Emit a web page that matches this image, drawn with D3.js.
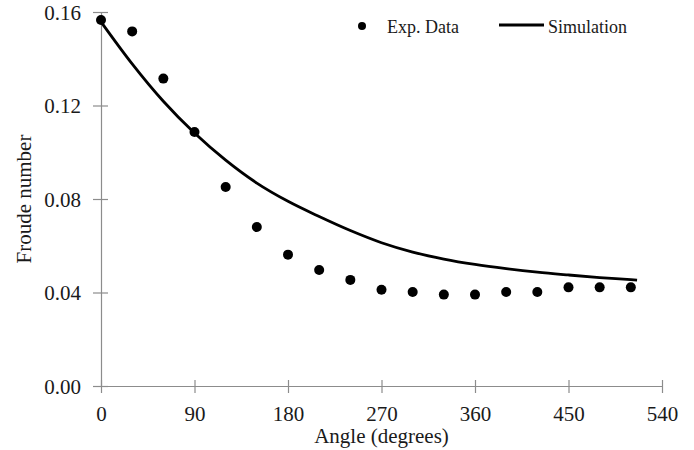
<!DOCTYPE html>
<html>
<head>
<meta charset="utf-8">
<script src="https://cdn.jsdelivr.net/npm/d3@7"></script>
<style>
  html, body { margin: 0; padding: 0; background: #fff; }
  svg { display: block; }
  text { font-family: "Liberation Serif", "Times New Roman", serif; fill: #1a1a1a; }
</style>
</head>
<body>
<svg id="chart" width="694" height="450"></svg>
<script>
// Experimental measurements (angle in degrees, Froude number)
const expAngles = [0, 30, 60, 90, 120, 150, 180, 210, 240, 270, 300, 330, 360, 390, 420, 450, 480, 510];
const expFroude = [0.1566, 0.1517, 0.1315, 0.1087, 0.0851, 0.0680, 0.0562, 0.0496, 0.0454, 0.0412,
                   0.0402, 0.0391, 0.0391, 0.0402, 0.0402, 0.0422, 0.0422, 0.0422];

// Simulated curve
const simAngles = [0, 30, 60, 90, 120, 150, 180, 210, 240, 270, 300, 330, 360, 390, 420, 450, 480, 510, 516];
const simFroude = [0.1558, 0.1378, 0.1218, 0.1082, 0.0966, 0.0868, 0.0790, 0.0725, 0.0665, 0.0613,
                   0.0573, 0.0543, 0.0520, 0.0502, 0.0487, 0.0475, 0.0464, 0.0455, 0.0453];

const xTicks = [0, 90, 180, 270, 360, 450, 540];
const yTicks = [0, 0.04, 0.08, 0.12, 0.16];

const seriesNames = ["Exp. Data", "Simulation"];
const xTitle = "Angle (degrees)";
const yTitle = "Froude number";

const svg = d3.select("#chart");
const axisColor = "#8c8c8c";

const x = d3.scaleLinear().domain([0, 540]).range([101, 662]);
const y = d3.scaleLinear().domain([0, 0.16]).range([386, 12]);

// X axis: line with ticks crossing it
const xAxis = svg.append("g").attr("transform", `translate(0,${y(0)})`)
  .call(d3.axisBottom(x).tickValues(xTicks).tickSize(0).tickFormat(d3.format("d")));
xAxis.select(".domain").attr("stroke", axisColor).attr("stroke-width", 1.2);
xAxis.selectAll(".tick line").remove();
xAxis.selectAll(".tick").append("line")
  .attr("y1", -6).attr("y2", 7).attr("stroke", axisColor).attr("stroke-width", 1.2);
xAxis.selectAll(".tick text")
  .attr("y", 35).attr("dy", 0)
  .style("font-family", '"Liberation Serif", serif').style("font-size", "21px").attr("fill", "#1a1a1a");

// Y axis
const yAxis = svg.append("g").attr("transform", `translate(${x(0)},0)`)
  .call(d3.axisLeft(y).tickValues(yTicks).tickSize(0).tickFormat(d3.format(".2f")));
yAxis.select(".domain").attr("stroke", axisColor).attr("stroke-width", 1.2);
yAxis.selectAll(".tick line").remove();
yAxis.selectAll(".tick").append("line")
  .attr("x1", -8).attr("x2", 7).attr("stroke", axisColor).attr("stroke-width", 1.2);
yAxis.selectAll(".tick text")
  .attr("x", -20).attr("dy", "0.35em")
  .style("font-family", '"Liberation Serif", serif').style("font-size", "21px").attr("fill", "#1a1a1a");

// Axis titles
svg.append("text")
  .attr("x", (x(0) + x(540)) / 2).attr("y", 443)
  .attr("text-anchor", "middle").style("font-size", "21px").text(xTitle);
svg.append("text")
  .attr("transform", `translate(31,${(y(0) + y(0.16)) / 2}) rotate(-90)`)
  .attr("text-anchor", "middle").style("font-size", "21px").text(yTitle);

// Simulation line
const simData = simAngles.map((a, i) => ({ a, v: simFroude[i] }));
svg.append("path")
  .datum(simData)
  .attr("fill", "none").attr("stroke", "#000").attr("stroke-width", 2.8)
  .attr("d", d3.line().x(d => x(d.a)).y(d => y(d.v)).curve(d3.curveMonotoneX));

// Experimental points
const expData = expAngles.map((a, i) => ({ a, v: expFroude[i] }));
svg.append("g").selectAll("circle")
  .data(expData).join("circle")
  .attr("cx", d => x(d.a)).attr("cy", d => y(d.v)).attr("r", 5).attr("fill", "#000");

// Legend
const legend = svg.append("g");
legend.append("circle").attr("cx", 362).attr("cy", 26).attr("r", 4).attr("fill", "#000");
legend.append("text").attr("x", 387).attr("y", 33).style("font-size", "18px").text(seriesNames[0]);
legend.append("line").attr("x1", 499).attr("x2", 544).attr("y1", 25).attr("y2", 25)
  .attr("stroke", "#000").attr("stroke-width", 2.8);
legend.append("text").attr("x", 548).attr("y", 33).style("font-size", "18px").text(seriesNames[1]);
</script>
</body>
</html>
